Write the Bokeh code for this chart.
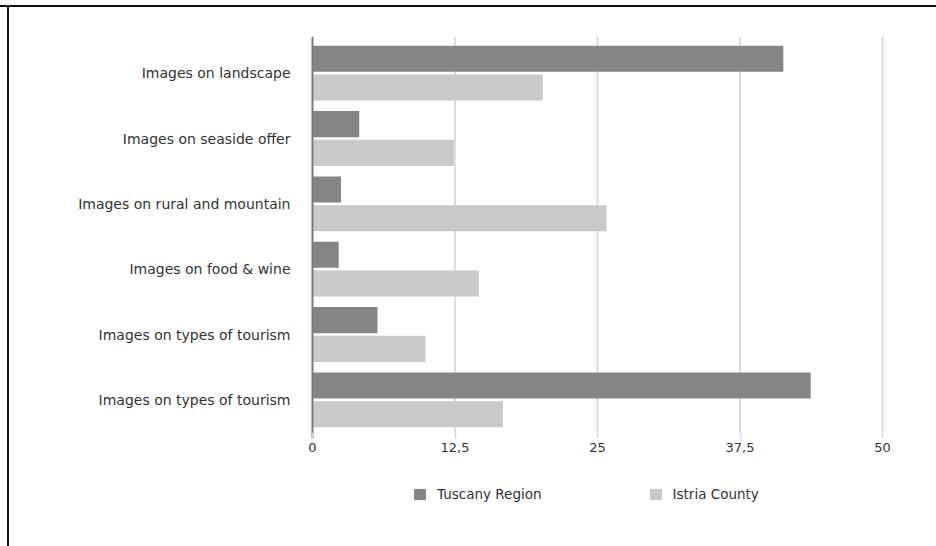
from bokeh.plotting import figure
from bokeh.models import (Range1d, FixedTicker, Legend, LegendItem,
                          ColumnDataSource)
from bokeh.embed import file_html
from bokeh.resources import INLINE

# Categories listed top to bottom
categories = [
    "Images on landscape",
    "Images on seaside offer",
    "Images on rural and mountain",
    "Images on food & wine",
    "Images on types of tourism",
    "Images on types of tourism",
]
tuscany = [41.3, 4.1, 2.5, 2.3, 5.7, 43.7]
istria = [20.2, 12.4, 25.8, 14.6, 9.9, 16.7]
x_ticks = [0, 12.5, 25, 37.5, 50]
x_tick_labels = ["0", "12,5", "25", "37,5", "50"]

series_names = ["Tuscany Region", "Istria County"]
dark = "#858585"
light = "#c9c9c9"
grid = "#d2d2d2"
base = "#7a7a7a"
font = "DejaVu Sans"

n = len(categories)
# top category gets the highest y position
ypos = [n - 1 - i for i in range(n)]
bar_h = 0.40
off = 0.22

# chart body spans y in [-0.5, n-0.5]; the frame reaches further down
# so the legend can sit inside it, under the x axis
px_per_unit_y = 392 / n
y_lo = -0.5 - 86 / px_per_unit_y
y_hi = n - 0.5 + 4 / px_per_unit_y
tick_len = 6 / px_per_unit_y

# a little room either side of 0..50 so the end tick labels are not cut
px_per_unit_x = 570 / 50
x_lo = -14 / px_per_unit_x
x_hi = 50 + 18 / px_per_unit_x

src = ColumnDataSource(dict(
    y_t=[y + off for y in ypos],
    y_i=[y - off for y in ypos],
    tuscany=tuscany,
    istria=istria,
))

p = figure(width=936, height=546, output_backend="svg", toolbar_location=None,
           x_range=Range1d(x_lo, x_hi), y_range=Range1d(y_lo, y_hi),
           min_border_left=298, min_border_right=36,
           min_border_top=36, min_border_bottom=28)
p.outline_line_color = None
p.background_fill_color = "white"
p.border_fill_color = None
# thin page frame along the top and left edges, drawn behind the canvas
p.styles = {
    "background": ("linear-gradient(#111, #111) 0px 5px / 100% 2px no-repeat, "
                   "linear-gradient(#111, #111) 7px 5px / 2px 100% no-repeat, "
                   "white"),
}

# vertical grid lines, limited to the chart body
gx = x_ticks[1:]
p.segment(x0=gx, x1=gx, y0=[-0.5] * len(gx), y1=[y_hi] * len(gx),
          line_color=grid, line_width=1.5)

r_t = p.hbar(y="y_t", left=0, right="tuscany", height=bar_h, source=src,
             fill_color=dark, line_color=None)
r_i = p.hbar(y="y_i", left=0, right="istria", height=bar_h, source=src,
             fill_color=light, line_color=None)

# value axis baseline at x = 0
p.segment(x0=[0], x1=[0], y0=[-0.5 - tick_len], y1=[y_hi],
          line_color=base, line_width=2)

# x axis pinned to the bottom of the chart body; ticks continue the grid
xa = p.xaxis[0]
xa.fixed_location = -0.5
xa.ticker = FixedTicker(ticks=x_ticks)
xa.major_label_overrides = {t: l for t, l in zip(x_ticks, x_tick_labels)}
xa.axis_line_color = None
xa.major_tick_in = 0
xa.major_tick_out = 6
xa.major_tick_line_color = grid
xa.major_tick_line_width = 1.5
xa.minor_tick_line_color = None
xa.major_label_text_font = font
xa.major_label_text_font_size = "13px"
xa.major_label_text_color = "#333333"
xa.major_label_standoff = 4

ya = p.yaxis[0]
ya.ticker = FixedTicker(ticks=ypos)
ya.major_label_overrides = {y: c for y, c in zip(ypos, categories)}
ya.axis_line_color = None
ya.major_tick_line_color = None
ya.minor_tick_line_color = None
ya.major_label_text_font = font
ya.major_label_text_font_size = "14px"
ya.major_label_text_color = "#333333"
ya.major_label_standoff = 2

p.xgrid.grid_line_color = None
p.ygrid.grid_line_color = None

legend = Legend(items=[LegendItem(label=series_names[0], renderers=[r_t]),
                       LegendItem(label=series_names[1], renderers=[r_i])],
                orientation="horizontal", location=(114, 16),
                glyph_width=15, glyph_height=14, label_height=14,
                label_standoff=10, spacing=106, padding=0, margin=0,
                border_line_color=None, background_fill_alpha=0,
                label_text_font=font, label_text_font_size="13.5px",
                label_text_color="#333333")
p.add_layout(legend, "center")

open("out.html", "w").write(file_html(p, INLINE))
